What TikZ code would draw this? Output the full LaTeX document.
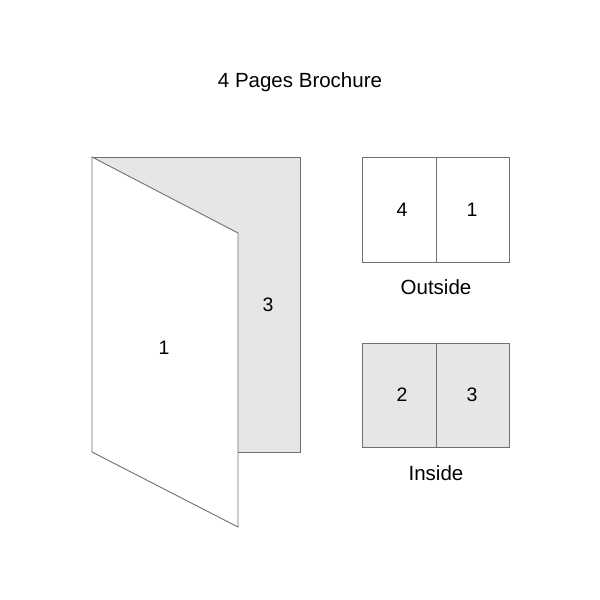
\documentclass[tikz,border=0pt]{standalone}
\usepackage{fontspec}
\setmainfont{Liberation Sans}
\definecolor{edge}{HTML}{707070}
\definecolor{paper}{HTML}{E6E6E6}
\tikzset{
  sheet/.style={draw=edge, line width=0.9pt, line join=miter},
  lbl/.style={font=\fontsize{19.5}{22}\selectfont, text=black, inner sep=0pt},
  captext/.style={font=\fontsize{20.5}{23}\selectfont, text=black, inner sep=0pt}
}
\begin{document}
\begin{tikzpicture}[x=1pt,y=-1pt]
\useasboundingbox (0,0) rectangle (600,600);
% title
\node[captext] (title) at (300,82) {4 Pages Brochure};
% back panel
\coordinate (bTL) at (92,157);
\coordinate (bTR) at (300,157);
\coordinate (bBR) at (300,452);
\coordinate (bBL) at (238,452);
\fill[paper] (bTL) -- (bTR) -- (bBR) -- (bBL) -- (238,233) -- cycle;
\draw[sheet] (bTL) -- (bTR) -- (bBR) -- (bBL);
% front panel
\coordinate (fTL) at (92,157);
\coordinate (fTR) at (238,233);
\coordinate (fBR) at (238,527);
\coordinate (fBL) at (92,452);
\draw[sheet, fill=white] (fTL) -- (fTR) -- (fBR) -- (fBL) -- cycle;
\node[lbl] (p3) at (268,305) {3};
\node[lbl] (p1) at (164,348) {1};
% outside
\draw[sheet, fill=white] (362,157) rectangle (509,262);
\draw[sheet] (436,157) -- (436,262);
\node[lbl] (o4) at (402,210) {4};
\node[lbl] (o1) at (472,210) {1};
\node[captext] (outside) at (436,287) {Outside};
% inside
\draw[sheet, fill=paper] (362,343) rectangle (509,447);
\draw[sheet] (436,343) -- (436,447);
\node[lbl] (i2) at (402,395) {2};
\node[lbl] (i3) at (472,395) {3};
\node[captext] (inside) at (436,473) {Inside};
\end{tikzpicture}
\end{document}
